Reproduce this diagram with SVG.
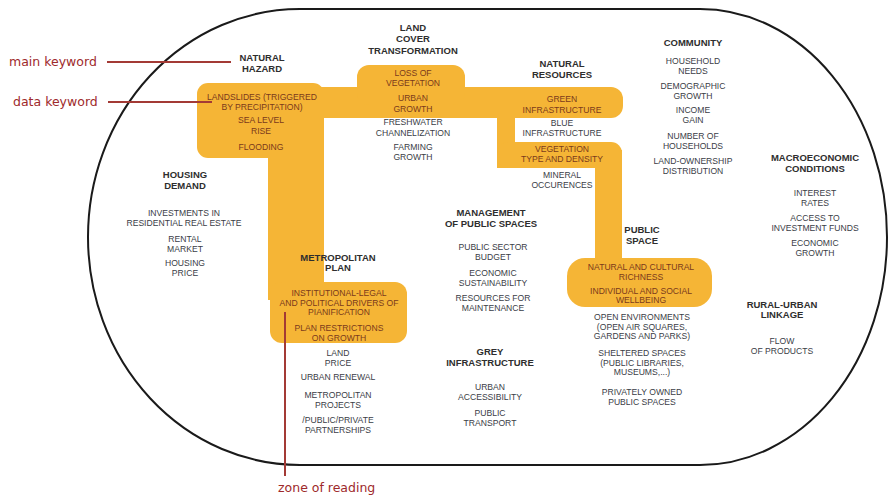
<svg xmlns="http://www.w3.org/2000/svg" width="889" height="496" viewBox="0 0 889 496">
<style>
.h{font-family:"Liberation Sans",Arial,sans-serif;font-weight:bold;font-size:9.5px;fill:#2e2e2e;text-anchor:middle}
.d{font-family:"Liberation Sans",Arial,sans-serif;font-size:8.6px;fill:#3a3d46;text-anchor:middle}
.y{font-family:"Liberation Sans",Arial,sans-serif;font-size:8.6px;fill:#7a3a1c;text-anchor:middle}
.r{font-family:"DejaVu Sans",sans-serif;font-size:12.5px;fill:#9e2a2b}
.hl{fill:#f5b536}
.rl{stroke:#a33a35;stroke-width:2;fill:none}
</style>
<rect width="889" height="496" fill="#ffffff"/>
<g id="zone-highlight">
<rect class="hl" x="197" y="83" width="127" height="75" rx="11"/>
<rect class="hl" x="300" y="87" width="323" height="31" rx="12"/>
<rect class="hl" x="357" y="65" width="108" height="40" rx="12"/>
<rect class="hl" x="497" y="95" width="18" height="73"/>
<rect class="hl" x="497" y="142" width="125" height="26" rx="11"/>
<rect class="hl" x="595" y="150" width="27" height="120"/>
<rect class="hl" x="567" y="258" width="145" height="49" rx="18"/>
<rect class="hl" x="268" y="140" width="56" height="160"/>
<rect class="hl" x="270" y="282" width="137" height="61" rx="12"/>
</g>
<g id="boundary">
<path d="M300,9 L700,9 A187,228 0 0 1 700,465 L300,465 A212,228 0 0 1 300,9 Z" fill="none" stroke="#1a1a1a" stroke-width="2"/>
</g>
<g id="connectors">
<line class="rl" x1="107" y1="62" x2="231" y2="62"/>
<line class="rl" x1="108" y1="102" x2="212" y2="102"/>
<line class="rl" x1="285" y1="312" x2="285" y2="476"/>
</g>
<g id="legend">
<text class="r" x="9" y="66">main keyword</text>
<text class="r" x="13" y="106">data keyword</text>
<text class="r" x="278" y="492">zone of reading</text>
</g>
<g id="natural-hazard">
<text class="h" x="262" y="60.5">NATURAL</text>
<text class="h" x="262" y="71.5">HAZARD</text>
<text class="y" x="262" y="100">LANDSLIDES (TRIGGERED</text>
<text class="y" x="262" y="109.5">BY PRECIPITATION)</text>
<text class="y" x="261" y="123">SEA LEVEL</text>
<text class="y" x="261" y="134">RISE</text>
<text class="y" x="261" y="150">FLOODING</text>
</g>
<g id="land-cover">
<text class="h" x="413" y="30.5">LAND</text>
<text class="h" x="413" y="41.5">COVER</text>
<text class="h" x="413" y="53.5">TRANSFORMATION</text>
<text class="y" x="413" y="76">LOSS OF</text>
<text class="y" x="413" y="86">VEGETATION</text>
<text class="y" x="413" y="101">URBAN</text>
<text class="y" x="413" y="111.5">GROWTH</text>
<text class="d" x="413" y="125">FRESHWATER</text>
<text class="d" x="413" y="136">CHANNELIZATION</text>
<text class="d" x="413" y="150">FARMING</text>
<text class="d" x="413" y="160">GROWTH</text>
</g>
<g id="natural-resources">
<text class="h" x="562" y="66.5">NATURAL</text>
<text class="h" x="562" y="77.5">RESOURCES</text>
<text class="y" x="562" y="102">GREEN</text>
<text class="y" x="562" y="113">INFRASTRUCTURE</text>
<text class="d" x="562" y="126">BLUE</text>
<text class="d" x="562" y="136">INFRASTRUCTURE</text>
<text class="y" x="562" y="152">VEGETATION</text>
<text class="y" x="562" y="162">TYPE AND DENSITY</text>
<text class="d" x="562" y="178">MINERAL</text>
<text class="d" x="562" y="188">OCCURENCES</text>
</g>
<g id="community">
<text class="h" x="693" y="45.5">COMMUNITY</text>
<text class="d" x="693" y="64">HOUSEHOLD</text>
<text class="d" x="693" y="74">NEEDS</text>
<text class="d" x="693" y="89">DEMOGRAPHIC</text>
<text class="d" x="693" y="99">GROWTH</text>
<text class="d" x="693" y="113">INCOME</text>
<text class="d" x="693" y="123">GAIN</text>
<text class="d" x="693" y="139">NUMBER OF</text>
<text class="d" x="693" y="149">HOUSEHOLDS</text>
<text class="d" x="693" y="164">LAND-OWNERSHIP</text>
<text class="d" x="693" y="174">DISTRIBUTION</text>
</g>
<g id="macroeconomic">
<text class="h" x="815" y="160.5">MACROECONOMIC</text>
<text class="h" x="815" y="171.5">CONDITIONS</text>
<text class="d" x="815" y="196">INTEREST</text>
<text class="d" x="815" y="206">RATES</text>
<text class="d" x="815" y="221">ACCESS TO</text>
<text class="d" x="815" y="231">INVESTMENT FUNDS</text>
<text class="d" x="815" y="246">ECONOMIC</text>
<text class="d" x="815" y="256">GROWTH</text>
</g>
<g id="housing-demand">
<text class="h" x="185" y="177.5">HOUSING</text>
<text class="h" x="185" y="188.5">DEMAND</text>
<text class="d" x="184" y="216">INVESTMENTS IN</text>
<text class="d" x="184" y="226">RESIDENTIAL REAL ESTATE</text>
<text class="d" x="185" y="242">RENTAL</text>
<text class="d" x="185" y="252">MARKET</text>
<text class="d" x="185" y="266">HOUSING</text>
<text class="d" x="185" y="276">PRICE</text>
</g>
<g id="management-public-spaces">
<text class="h" x="491" y="215.5">MANAGEMENT</text>
<text class="h" x="491" y="226.5">OF PUBLIC SPACES</text>
<text class="d" x="493" y="250">PUBLIC SECTOR</text>
<text class="d" x="493" y="260">BUDGET</text>
<text class="d" x="493" y="276">ECONOMIC</text>
<text class="d" x="493" y="286">SUSTAINABILITY</text>
<text class="d" x="493" y="301">RESOURCES FOR</text>
<text class="d" x="493" y="311">MAINTENANCE</text>
</g>
<g id="metropolitan-plan">
<text class="h" x="338" y="260.5">METROPOLITAN</text>
<text class="h" x="338" y="271">PLAN</text>
<text class="y" x="339" y="296">INSTITUTIONAL-LEGAL</text>
<text class="y" x="339" y="306">AND POLITICAL DRIVERS OF</text>
<text class="y" x="339" y="315">PIANIFICATION</text>
<text class="y" x="339" y="331">PLAN RESTRICTIONS</text>
<text class="y" x="339" y="341">ON GROWTH</text>
<text class="d" x="338" y="356">LAND</text>
<text class="d" x="338" y="366">PRICE</text>
<text class="d" x="338" y="380">URBAN RENEWAL</text>
<text class="d" x="338" y="398">METROPOLITAN</text>
<text class="d" x="338" y="408">PROJECTS</text>
<text class="d" x="338" y="423">/PUBLIC/PRIVATE</text>
<text class="d" x="338" y="433">PARTNERSHIPS</text>
</g>
<g id="public-space">
<text class="h" x="642" y="233">PUBLIC</text>
<text class="h" x="642" y="243.5">SPACE</text>
<text class="y" x="641" y="270">NATURAL AND CULTURAL</text>
<text class="y" x="641" y="280">RICHNESS</text>
<text class="y" x="641" y="294">INDIVIDUAL AND SOCIAL</text>
<text class="y" x="641" y="303">WELLBEING</text>
<text class="d" x="642" y="320">OPEN ENVIRONMENTS</text>
<text class="d" x="642" y="329.5">(OPEN AIR SQUARES,</text>
<text class="d" x="642" y="339">GARDENS AND PARKS)</text>
<text class="d" x="642" y="356">SHELTERED SPACES</text>
<text class="d" x="642" y="365.5">(PUBLIC LIBRARIES,</text>
<text class="d" x="642" y="375">MUSEUMS,...)</text>
<text class="d" x="642" y="395">PRIVATELY OWNED</text>
<text class="d" x="642" y="405">PUBLIC SPACES</text>
</g>
<g id="grey-infrastructure">
<text class="h" x="490" y="354.5">GREY</text>
<text class="h" x="490" y="365.5">INFRASTRUCTURE</text>
<text class="d" x="490" y="390">URBAN</text>
<text class="d" x="490" y="400">ACCESSIBILITY</text>
<text class="d" x="490" y="416">PUBLIC</text>
<text class="d" x="490" y="426">TRANSPORT</text>
</g>
<g id="rural-urban">
<text class="h" x="782" y="307.5">RURAL-URBAN</text>
<text class="h" x="782" y="318">LINKAGE</text>
<text class="d" x="782" y="344">FLOW</text>
<text class="d" x="782" y="354">OF PRODUCTS</text>
</g>
</svg>
